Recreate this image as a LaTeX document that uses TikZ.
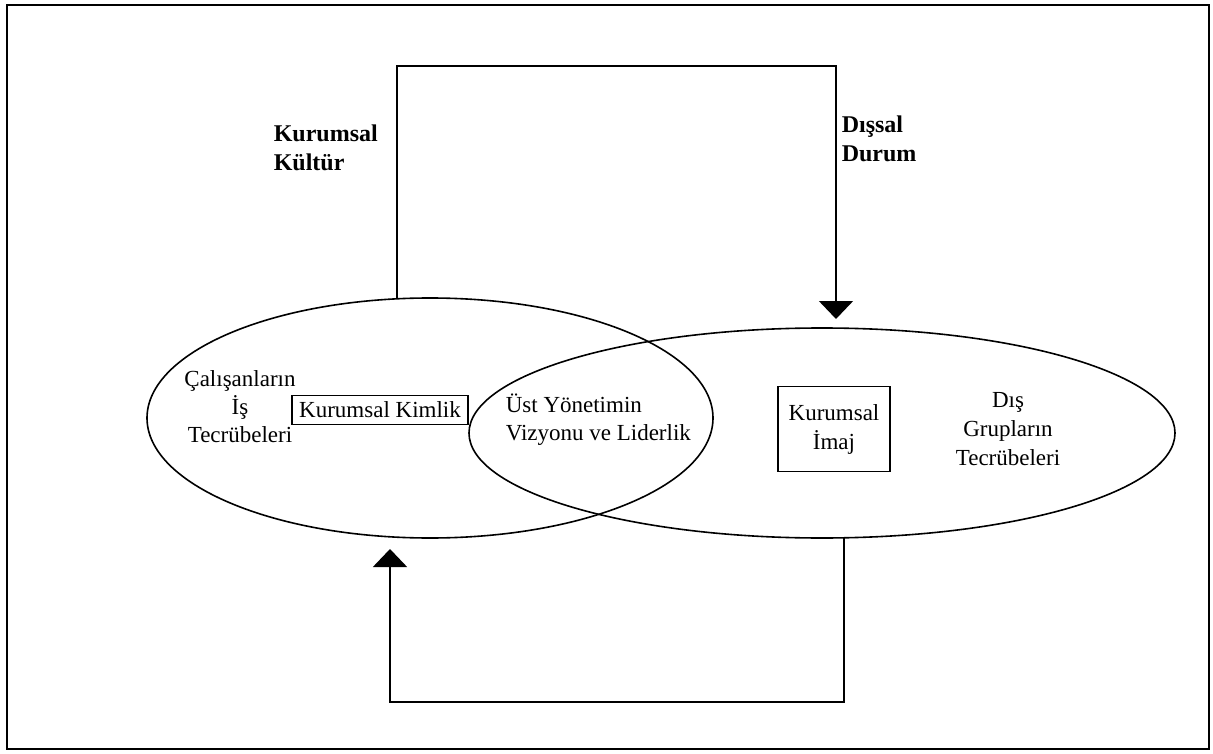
\documentclass[tikz,border=0pt]{standalone}
\usepackage{fontspec}
\setmainfont{Liberation Serif}
\usetikzlibrary{arrows.meta,shapes.geometric}
\begin{document}
\begin{tikzpicture}[x=1pt,y=-1pt,line width=1.6pt,
  txt/.style={font=\fontsize{23}{28}\selectfont,align=center,inner sep=0pt},
  lbl/.style={font=\bfseries\fontsize{24}{29}\selectfont,align=left,inner sep=0pt,anchor=west},
  box/.style={draw,line width=1.6pt,inner sep=2pt,font=\fontsize{23}{29}\selectfont,align=center},
  oval/.style={draw,ellipse,inner sep=0pt,outer sep=0pt},
  tip/.style={-{Triangle[width=34pt,length=18pt]}}]
\useasboundingbox (0,0) rectangle (1213,754);
\draw[line width=2.4pt] (7,5) rectangle (1209,749);
\node[oval,minimum width=566pt,minimum height=240pt] (L) at (430,418) {};
\node[oval,minimum width=706pt,minimum height=210pt] (R) at (822,433) {};
\node[txt] (cal) at (240,407) {Çalışanların\\İş\\Tecrübeleri};
\node[box,minimum width=176pt,minimum height=29pt] (kk) at (380,410) {Kurumsal Kimlik};
\node[txt,align=left,anchor=west] (ust) at (505,420) {Üst Yönetimin\\Vizyonu ve Liderlik};
\node[box,minimum width=112pt,minimum height=85pt] (ki) at (834,429) {Kurumsal\\İmaj};
\node[txt,font=\fontsize{23}{29}\selectfont] (dis) at (1008,429) {Dış\\Grupların\\Tecrübeleri};
\node[lbl] (kul) at (273,148) {Kurumsal\\Kültür};
\node[lbl] (dur) at (841,139) {Dışsal\\Durum};
\coordinate (t1) at (397,66);
\coordinate (t2) at (836,66);
\coordinate (a1) at (836,319);
\coordinate (b1) at (844,702);
\coordinate (b2) at (390,702);
\coordinate (a2) at (390,549);
\draw[tip] (t1 |- L.north) -- (t1) -- (t2) -- (a1);
\draw[tip] (b1 |- R.south) -- (b1) -- (b2) -- (a2);
\end{tikzpicture}
\end{document}
